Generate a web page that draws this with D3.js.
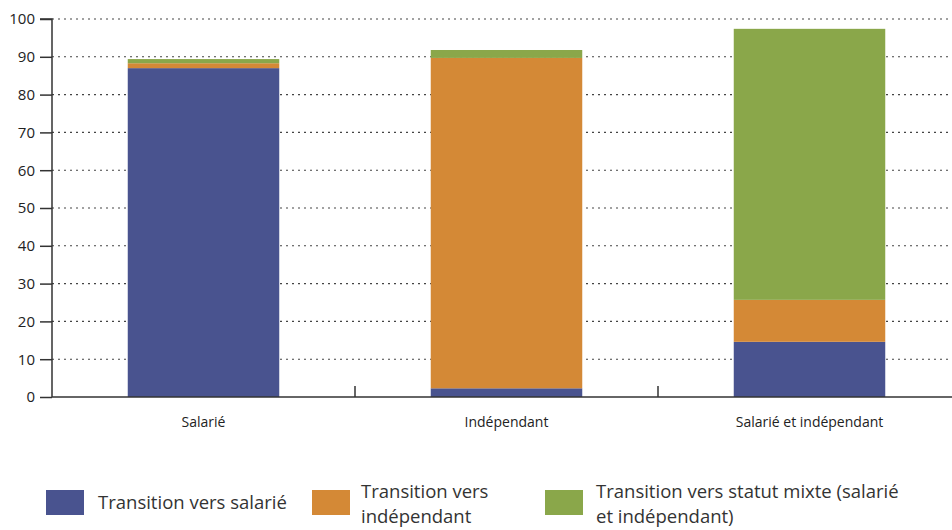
<!DOCTYPE html>
<html>
<head>
<meta charset="utf-8">
<script src="https://cdn.jsdelivr.net/npm/d3@7"></script>
<style>
  body { margin: 0; background: #fff; }
  svg { display: block; font-family: "Open Sans", sans-serif; }
</style>
</head>
<body>
<svg id="chart" width="952" height="530"></svg>
<script>
// Status of origin (categories on the x axis)
const categories = ["Salarié", "Indépendant", "Salarié et indépendant"];
// Stacked series, one value per category (%)
const versSalarie = [87.0, 2.3, 14.6];
const versIndependant = [1.3, 87.4, 11.1];
const versMixte = [1.1, 2.1, 71.7];
const seriesNames = ["Transition vers salarié", "Transition vers indépendant", "Transition vers statut mixte (salarié et indépendant)"];
const legendLines = [["Transition vers salarié"], ["Transition vers", "indépendant"], ["Transition vers statut mixte (salarié", "et indépendant)"]];
const yTicks = [0, 10, 20, 30, 40, 50, 60, 70, 80, 90, 100];
const colors = ["#49538f", "#d48936", "#8aa74a"];

const svg = d3.select("#chart");
const margin = { left: 52, top: 19, bottom: 133 };
const plotW = 909;
const plotH = 530 - margin.top - margin.bottom;

const rows = categories.map((c, i) => ({ cat: c, s0: versSalarie[i], s1: versIndependant[i], s2: versMixte[i] }));
const stack = d3.stack().keys(["s0", "s1", "s2"]);
const stacked = stack(rows);

const x = d3.scaleBand().domain(categories).range([margin.left, margin.left + plotW]).paddingInner(0.5).paddingOuter(0.25);
const y = d3.scaleLinear().domain([0, 100]).range([margin.top + plotH, margin.top]);

// Dotted gridlines
svg.append("g").selectAll("line").data(yTicks.filter(d => d > 0)).join("line")
  .attr("x1", margin.left).attr("x2", 952)
  .attr("y1", d => y(d)).attr("y2", d => y(d))
  .attr("stroke", "#444").attr("stroke-width", 1.1).attr("stroke-dasharray", "2,4");

// Stacked bars
svg.append("g").selectAll("g").data(stacked).join("g")
  .attr("fill", (d, i) => colors[i])
  .selectAll("rect").data(d => d).join("rect")
  .attr("x", d => x(d.data.cat))
  .attr("width", x.bandwidth())
  .attr("y", d => y(d[1]))
  .attr("height", d => y(d[0]) - y(d[1]));

// Y axis
const yAxis = svg.append("g").attr("transform", `translate(${margin.left},0)`)
  .call(d3.axisLeft(y).tickValues(yTicks).tickSize(12).tickPadding(5));
yAxis.select(".domain").attr("stroke", "#333").attr("stroke-width", 1.5).attr("d", `M-12,${y(100)}H0V${y(0)}`);
yAxis.selectAll(".tick line").attr("stroke", "#333").attr("stroke-width", 1.5);
yAxis.selectAll(".tick text").attr("font-size", 15).attr("fill", "#222").attr("font-family", "Open Sans, sans-serif");

// X axis with separators between categories
const xg = svg.append("g");
xg.append("line").attr("x1", margin.left).attr("x2", 952).attr("y1", y(0)).attr("y2", y(0))
  .attr("stroke", "#333").attr("stroke-width", 1.5);
const step = x.step();
xg.selectAll(".sep").data(categories.slice(1)).join("line")
  .attr("x1", d => x(d) - step * 0.25).attr("x2", d => x(d) - step * 0.25)
  .attr("y1", y(0) - 11).attr("y2", y(0))
  .attr("stroke", "#333").attr("stroke-width", 1.5);
xg.selectAll("text").data(categories).join("text")
  .attr("x", d => x(d) + x.bandwidth() / 2).attr("y", y(0) + 30)
  .attr("text-anchor", "middle").attr("font-size", 14).attr("fill", "#222")
  .text(d => d);

// Legend
const legendX = [46, 312, 545];
const legendTextX = [98, 361, 596];
const lg = svg.append("g");
seriesNames.forEach((name, i) => {
  lg.append("rect").attr("x", legendX[i]).attr("y", 490).attr("width", 38).attr("height", 25).attr("fill", colors[i]);
  const lines = legendLines[i];
  const t = lg.append("text").attr("font-size", 18.5).attr("fill", "#333");
  lines.forEach((ln, j) => {
    const yy = lines.length === 1 ? 509 : 498 + j * 25;
    t.append("tspan").attr("x", legendTextX[i]).attr("y", yy).text(ln);
  });
});
</script>
</body>
</html>
